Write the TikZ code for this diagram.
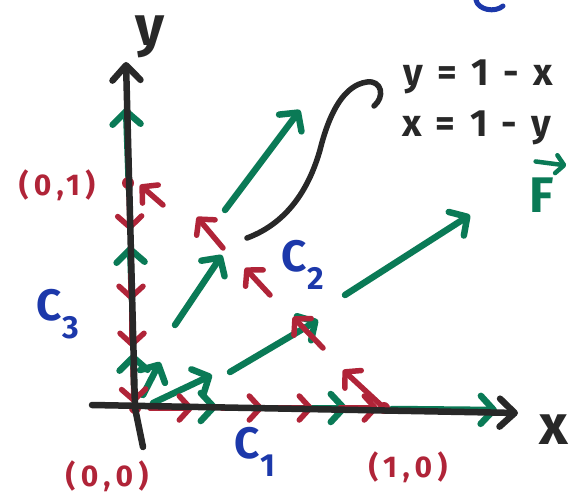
\documentclass[tikz,border=0pt]{standalone}
\usepackage{fontspec}
\setmainfont{Fira Sans}
\usepackage{tikz}
\usetikzlibrary{arrows.meta,calc}

\definecolor{mkgreen}{RGB}{10,122,86}
\definecolor{mkred}{RGB}{176,36,56}
\definecolor{mkblue}{RGB}{28,56,170}
\definecolor{mkblack}{RGB}{40,40,40}
\newcommand{\Cn}[1]{C\kern1pt\raisebox{-.42em}{\fontsize{32}{32}\selectfont #1}}

\begin{document}
\begin{tikzpicture}[
  x=1pt, y=-1pt,
  line cap=round, line join=round,
  ax/.style={mkblack, line width=6.5pt, -{Straight Barb[round,length=15pt,width=28pt]}},
  fvec/.style={mkgreen, line width=6.5pt, -{Straight Barb[round,length=13pt,width=28pt]}},
  tvec/.style={mkred, line width=5.5pt, -{Straight Barb[round,length=11pt,width=24pt]}},
  hand/.style={font=\bfseries\fontsize{30}{30}\selectfont\addfontfeature{LetterSpace=18}, inner sep=0pt},
  ptlab/.style={hand, mkred},
  clab/.style={font=\bfseries\fontsize{44}{44}\selectfont, mkblue, inner sep=0pt},
  eq/.style={font=\bfseries\fontsize{38}{38}\selectfont\addfontfeature{LetterSpace=14}, mkblack, inner sep=0pt, anchor=base west}
]
\useasboundingbox (0,0) rectangle (577,497);
% field F (green)
\draw[fvec] (162,407) -- (217,407);
\draw[fvec] (272,408) -- (347,408);
\draw[fvec] (392,409) -- (497,410);
\draw[fvec] (129,190) -- (126,108);
\draw[fvec] (132,300) -- (130,246);
\draw[fvec] (134,385) -- (133,354);
\draw[fvec] (143,395) -- (160,362);
\draw[fvec] (153,403) -- (212,375);
\draw[fvec] (230,372) -- (318,320);
\draw[fvec] (175,325) -- (222,255);
\draw[fvec] (225,210) -- (300,110);
\draw[fvec] (345,295) -- (470,215);
% tangents (red)
\draw[tvec] (150,408) -- (193,408);
\draw[tvec] (222,408) -- (263,408);
\draw[tvec] (278,408) -- (313,408);
\draw[tvec] (340,408) -- (378,408);
\draw[tvec] (129,190) -- (130,230);
\draw[tvec] (131,262) -- (131,300);
\draw[tvec] (132,312) -- (132,347);
\draw[tvec] (133,368) -- (134,403);
\draw[tvec] (383,407) -- (343,370);
\draw[tvec] (323,348) -- (293,317);
\draw[tvec] (270,295) -- (245,268);
\draw[tvec] (223,248) -- (197,217);
\draw[tvec] (163,205) -- (140,185);
\fill[mkred] (128,183) circle[radius=6pt];
\fill[mkred] (384,408) circle[radius=6pt];
\fill[mkred] (135,408) circle[radius=6pt];
% axes
\draw[ax] (143,447) -- (135,408) -- (126,62);
\draw[ax] (92,405) -- (518,413);
\node[font=\bfseries\fontsize{56}{56}\selectfont, mkblack, inner sep=0pt] (ylab) at (150,37) {y};
\node[font=\bfseries\fontsize{56}{56}\selectfont, mkblack, inner sep=0pt] (xlab) at (554,430) {x};
\node[ptlab] (p01) at (57,185) {(0,1)};
\node[ptlab] (p00) at (107,476) {(0,0)};
\node[ptlab] (p10) at (408,467) {(1,0)};
\node[clab] (c3) at (58,314) {\Cn{3}};
\node[clab] (c1) at (255,452) {\Cn{1}};
\node[clab] (c2) at (303,265) {\Cn{2}};
\node[font=\bfseries\fontsize{50}{50}\selectfont, mkgreen, inner sep=0pt] (F) at (542,195) {F};
\draw[mkgreen, line width=4.5pt, -{Straight Barb[round,length=8pt,width=18pt]}]
  ($(F.north west)+(6,-16)$) -- ($(F.north east)+(12,-12)$);
\node[eq] (eq1) at (403,86) {y = 1 - x};
\node[eq] (eq2) at (402,136) {x = 1 - y};
\coordinate (crv) at (247,238);
\draw[mkblack, line width=5.5pt] (crv) .. controls (290,222) and (310,185) .. (320,150)
  .. controls (330,110) and (345,85) .. (367,82) .. controls (382,80) and (385,97) .. (374,106);
\draw[mkblue, line width=5pt] (476,0) .. controls (478,10) and (495,13) .. (503,6);
\end{tikzpicture}
\end{document}
